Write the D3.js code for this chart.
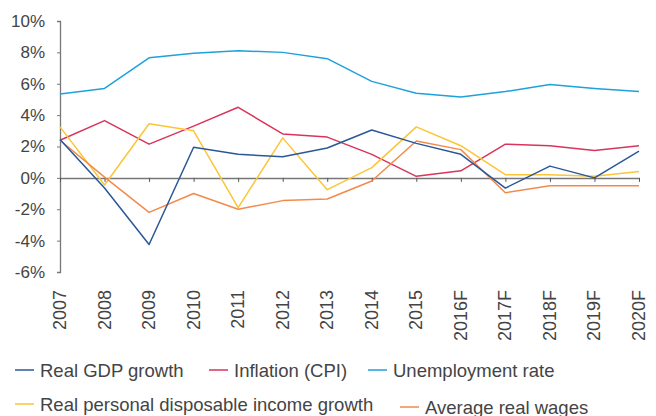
<!DOCTYPE html>
<html>
<head>
<meta charset="utf-8">
<script src="https://cdn.jsdelivr.net/npm/d3@7"></script>
<style>
    body { margin: 0; background: #fff; }
    svg text { font-family: "Liberation Sans", Arial, sans-serif; fill: #444; }
</style>
</head>
<body>
<div id="chart"></div>
<script>
'use strict';

var years = ['2007', '2008', '2009', '2010', '2011', '2012', '2013', '2014', '2015', '2016F', '2017F', '2018F', '2019F', '2020F'];
var yTicks = [-6, -4, -2, 0, 2, 4, 6, 8, 10];

var gdp = [2.45, -0.65, -4.25, 1.95, 1.5, 1.35, 1.9, 3.05, 2.2, 1.5, -0.65, 0.75, 0.0, 1.7];
var cpi = [2.4, 3.65, 2.15, 3.3, 4.5, 2.8, 2.6, 1.5, 0.1, 0.45, 2.15, 2.05, 1.75, 2.05];
var unemployment = [5.35, 5.7, 7.65, 7.95, 8.1, 8.0, 7.6, 6.15, 5.4, 5.15, 5.5, 5.95, 5.7, 5.5];
var disposable = [3.25, -0.45, 3.45, 3.0, -1.9, 2.55, -0.75, 0.65, 3.25, 2.05, 0.2, 0.2, 0.1, 0.4];
var wages = [2.4, 0.05, -2.2, -1.0, -2.0, -1.45, -1.35, -0.2, 2.35, 1.8, -0.95, -0.5, -0.5, -0.5];

var series = [
    { name: 'Real GDP growth', values: gdp, color: '#2b5797' },
    { name: 'Inflation (CPI)', values: cpi, color: '#d9345b' },
    { name: 'Unemployment rate', values: unemployment, color: '#1ea1dc' },
    { name: 'Real personal disposable income growth', values: disposable, color: '#fcc537' },
    { name: 'Average real wages', values: wages, color: '#f28a4c' }
];
var drawOrder = [2, 1, 3, 4, 0];
var legendRows = [[0, 1, 2], [3, 4]];

var w = 656;
var h = 416;

var x = d3.scalePoint().domain(years).range([60, 639]);
var y = d3.scaleLinear().domain([-6, 10]).range([272, 21]);

var svg = d3.select('#chart').append('svg').attr('width', w).attr('height', h);

// y axis
var yAxis = svg.append('g').attr('transform', 'translate(60,0)')
    .call(d3.axisLeft(y).tickValues(yTicks).tickSize(3).tickFormat(function (d) { return d + '%'; }));
yAxis.select('.domain').attr('stroke', '#777').attr('stroke-width', 1.3);
yAxis.selectAll('.tick line').attr('stroke', '#777');
yAxis.selectAll('.tick text').attr('x', -15).style('font-size', '17px').attr('fill', '#444');

// x axis along zero
var xAxis = svg.append('g').attr('transform', 'translate(0,' + y(0) + ')')
    .call(d3.axisBottom(x).tickSize(4).tickSizeOuter(0));
xAxis.select('.domain').attr('stroke', '#777').attr('stroke-width', 1.5);
xAxis.selectAll('.tick line').attr('stroke', '#555');
xAxis.selectAll('.tick text').remove();

// x labels, rotated, hanging from below the plot
svg.append('g').selectAll('text')
    .data(years)
    .enter()
    .append('text')
    .attr('transform', function (d) { return 'translate(' + (x(d) + 6) + ',290) rotate(-90)'; })
    .attr('text-anchor', 'end')
    .style('font-size', '18px')
    .text(function (d) { return d; });

var line = d3.line()
    .x(function (d, i) { return x(years[i]); })
    .y(function (d) { return y(d); });

drawOrder.forEach(function (k) {
    var s = series[k];
    svg.append('path')
        .attr('d', line(s.values))
        .attr('fill', 'none')
        .attr('stroke', s.color)
        .attr('stroke-width', 1.5)
        .attr('stroke-linejoin', 'round');
});

// legend
var legendX = [[15, 209, 368], [15, 400]];
var legendY = [[370, 370, 370], [404, 407]];
legendRows.forEach(function (row, r) {
    row.forEach(function (k, j) {
        var g = svg.append('g').attr('transform', 'translate(' + legendX[r][j] + ',' + legendY[r][j] + ')');
        g.append('line').attr('x1', 0).attr('x2', 19).attr('y1', 0).attr('y2', 0)
            .attr('stroke', series[k].color).attr('stroke-width', 1.5);
        g.append('text').attr('x', 25).attr('y', 6.5).style('font-size', '18.5px').text(series[k].name);
    });
});
</script>
</body>
</html>
